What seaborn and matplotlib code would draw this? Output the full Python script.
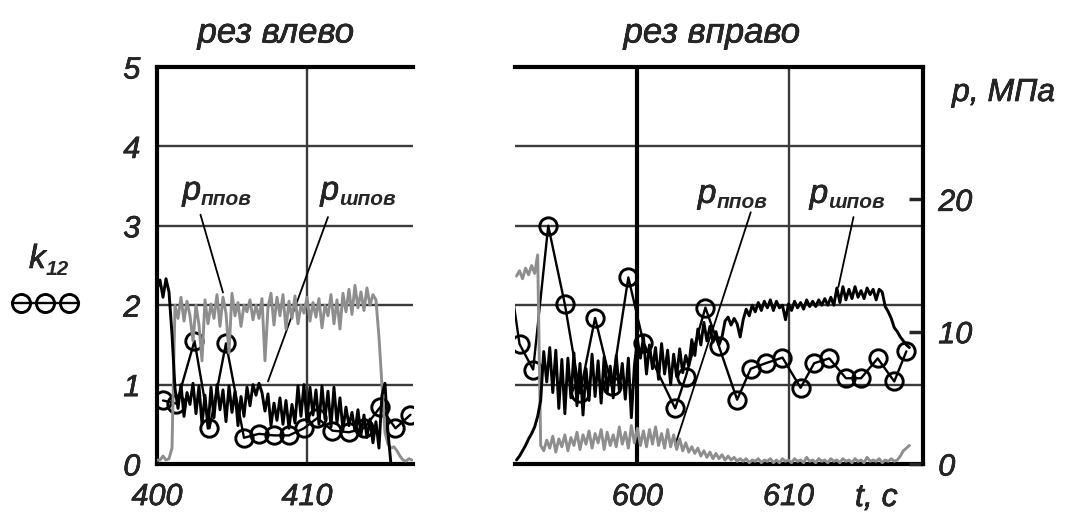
import numpy as np
import pandas as pd
import matplotlib
matplotlib.use("Agg")
import matplotlib.pyplot as plt
import matplotlib.patheffects as pe
import seaborn as sns
from matplotlib.lines import Line2D

# ---------------- data ----------------
# left record ("cut to the left"): sampled every 0.2 s from 400.0 s
t_left_start, t_step = 400.0, 0.2
p_shpov_left = [
    13.2, 13.9, 12.6, 14.0, 13.0, 9.8, 5.7, 4.2, 6.0, 3.6,
    5.4, 4.5, 6.1, 3.8, 5.9, 3.0, 5.2, 2.7, 5.8, 3.5,
    6.0, 4.1, 5.6, 3.2, 5.9, 3.9, 5.5, 2.9, 5.1, 3.6,
    5.8, 4.4, 6.0, 5.2, 6.1, 5.4, 4.0, 5.3, 2.9, 4.6,
    3.3, 5.0, 3.0, 4.8, 2.7, 4.5, 3.1, 5.9, 3.6, 6.0,
    3.2, 5.8, 3.7, 5.6, 3.0, 5.9, 3.4, 5.5, 2.8, 5.8,
    3.1, 5.0, 2.6, 4.3, 2.9, 3.9, 2.5, 4.1, 2.2, 3.7,
    2.0, 3.4, 1.6, 3.2, 1.2, 5.2, 6.1, 2.4, 0.0, 0.0,
    0.0, 0.0, 0.0, 0.0, 0.0, 0.0,
]
p_ppov_left = [
    0.3, 0.3, 0.6, 0.3, 0.4, 1.2, 12.0, 11.0, 12.6, 10.8,
    12.3, 11.2, 9.3, 12.0, 10.5, 7.8, 12.4, 10.6, 12.1, 11.0,
    12.8, 10.4, 12.6, 11.4, 8.4, 12.9, 11.2, 12.2, 10.4, 12.0,
    11.5, 12.4, 10.9, 12.0, 11.0, 12.5, 7.8, 11.8, 12.9, 10.5,
    12.6, 11.2, 12.8, 10.2, 12.3, 11.0, 12.7, 10.6, 12.0, 11.4,
    12.6, 10.8, 12.2, 11.1, 12.5, 10.3, 12.0, 11.2, 12.8, 10.6,
    12.4, 10.2, 12.9, 11.5, 13.2, 11.3, 13.5, 11.8, 13.0, 11.6,
    13.3, 12.0, 12.8, 12.4, 9.6, 6.0, 2.4, 1.5, 1.2, 1.3,
    1.0, 0.6, 0.3, 0.2, 0.4, 0.3,
]
k12_t_left = [400.4, 401.3, 402.5, 403.5, 404.6, 405.8, 406.8, 407.8, 408.8,
              409.8, 410.7, 411.7, 412.8, 413.8, 414.9, 415.9, 416.9]
k12_left = [0.80, 0.76, 1.55, 0.45, 1.52, 0.33, 0.38, 0.36, 0.36,
            0.45, 0.58, 0.42, 0.40, 0.45, 0.72, 0.45, 0.62]

# right record ("cut to the right"): sampled every 0.2 s from 592.0 s
t_right_start = 592.0
p_shpov_right = [
    0.3, 0.6, 1.0, 1.4, 1.9, 2.3, 2.8, 3.6, 4.8, 8.5,
    6.2, 8.8, 5.4, 8.6, 4.2, 7.9, 3.8, 8.0, 5.0, 8.4,
    4.4, 7.6, 3.7, 7.2, 4.8, 8.3, 5.1, 7.8, 4.6, 8.1,
    5.4, 7.4, 5.0, 8.2, 5.6, 7.6, 4.9, 8.0, 3.5, 7.4,
    9.4, 8.0, 9.6, 6.8, 9.0, 7.2, 8.8, 6.4, 9.1, 6.8,
    8.6, 6.0, 8.3, 6.6, 8.7, 6.9, 8.2, 7.4, 9.4, 8.2,
    10.2, 9.0, 10.7, 9.3, 10.4, 9.2, 10.0, 9.0, 9.6, 10.8,
    11.1, 10.5, 11.0, 10.6, 9.6, 10.9, 11.7, 11.2, 12.0, 11.5,
    12.2, 11.6, 12.3, 11.8, 12.4, 11.6, 12.3, 11.8, 12.0, 10.9,
    12.1, 11.6, 12.3, 11.8, 12.2, 11.7, 12.4, 11.9, 12.3, 11.9,
    12.4, 12.0, 12.5, 12.0, 12.6, 12.0, 13.3, 12.2, 13.4, 12.4,
    13.2, 12.5, 13.4, 12.6, 13.1, 12.5, 13.3, 12.8, 13.2, 12.4,
    13.2, 13.0, 11.9, 11.5, 11.0, 10.3, 10.0, 9.6, 9.3, 9.0,
    8.8,
]
p_ppov_right = [
    14.2, 14.6, 14.0, 14.8, 14.3, 15.0, 14.4, 15.8, 1.4, 1.0,
    1.8, 1.2, 2.1, 0.9, 1.9, 1.3, 2.2, 1.0, 2.0, 1.4,
    2.4, 1.1, 2.2, 1.5, 2.5, 1.2, 2.3, 1.6, 2.6, 1.1,
    2.4, 1.4, 2.2, 1.3, 2.8, 1.5, 2.4, 1.2, 2.9, 1.6,
    2.7, 1.4, 2.5, 1.3, 2.6, 1.5, 2.8, 1.4, 2.3, 1.2,
    2.6, 1.3, 2.2, 1.1, 1.9, 1.0, 1.6, 0.9, 1.3, 0.8,
    1.2, 0.6, 1.0, 0.5, 0.9, 0.4, 0.8, 0.4, 0.7, 0.3,
    0.6, 0.3, 0.5, 0.2, 0.4, 0.2, 0.4, 0.1, 0.3, 0.2,
    0.4, 0.1, 0.3, 0.2, 0.4, 0.1, 0.3, 0.1, 0.4, 0.2,
    0.3, 0.1, 0.4, 0.2, 0.3, 0.1, 0.5, 0.2, 0.3, 0.1,
    0.4, 0.2, 0.3, 0.1, 0.4, 0.2, 0.3, 0.1, 0.4, 0.2,
    0.3, 0.1, 0.4, 0.2, 0.3, 0.1, 0.5, 0.2, 0.3, 0.2,
    0.4, 0.1, 0.3, 0.2, 0.4, 0.2, 0.3, 0.6, 1.0, 1.2,
    1.4,
]
k12_t_right = [591.0, 592.2, 593.1, 594.1, 595.2, 596.2, 597.2, 598.3, 599.4,
               600.4, 602.5, 603.2, 604.5, 605.4, 606.6, 607.5, 608.5, 609.6,
               610.8, 611.7, 612.7, 613.8, 614.8, 615.9, 617.0, 617.8]
k12_right = [3.10, 1.51, 1.19, 3.00, 2.01, 0.89, 1.84, 0.98, 2.35,
             1.53, 0.70, 1.10, 1.97, 1.48, 0.81, 1.20, 1.27, 1.34,
             0.96, 1.27, 1.33, 1.08, 1.08, 1.33, 1.04, 1.42]

k_ticks = [0, 1, 2, 3, 4, 5]
p_ticks = [0, 10, 20]
x_ticks_left = [400, 410]
x_ticks_right = [600, 610]

df_left = pd.DataFrame({
    "t": t_left_start + t_step * np.arange(len(p_shpov_left)),
    "p_shpov": p_shpov_left,
    "p_ppov": p_ppov_left,
})
df_right = pd.DataFrame({
    "t": t_right_start + t_step * np.arange(len(p_shpov_right)),
    "p_shpov": p_shpov_right,
    "p_ppov": p_ppov_right,
})

# ---------------- style ----------------
sns.set_style("white")
plt.rcParams["font.family"] = ["Liberation Sans", "DejaVu Sans"]
plt.rcParams["font.style"] = "italic"

GRAY = "#8e8e8e"
GRID = "#3a3a3a"
FS = 22
HEAVY = [pe.withStroke(linewidth=0.45, foreground="black")]

W, H = 1074, 516
fig = plt.figure(figsize=(W / 100, H / 100), dpi=100)
ax_l = fig.add_axes([157 / W, 1 - 464 / H, 256 / W, 397 / H])
ax_r = fig.add_axes([515 / W, 1 - 464 / H, 408 / W, 397 / H])
tw_l = ax_l.twinx()
tw_r = ax_r.twinx()

line_kw = dict(estimator=None, sort=False, linewidth=2.1)
k12_kw = dict(estimator=None, sort=False, color="black", linewidth=1.7,
              marker="o", markersize=12.5, markerfacecolor="none",
              markeredgecolor="black", markeredgewidth=2.1)

for ax, tw, df, kt, kv in [(ax_l, tw_l, df_left, k12_t_left, k12_left),
                           (ax_r, tw_r, df_right, k12_t_right, k12_right)]:
    sns.lineplot(data=df, x="t", y="p_ppov", ax=tw, color=GRAY, **line_kw)
    sns.lineplot(data=df, x="t", y="p_shpov", ax=tw, color="black", **line_kw)
    sns.lineplot(x=kt, y=kv, ax=ax, **k12_kw)
    ax.set_ylim(0, 5)
    tw.set_ylim(0, 30)
    ax.set_xlabel("")
    ax.set_ylabel("")
    tw.set_ylabel("")
    ax.set_yticks(k_ticks)
    ax.grid(True, axis="y", color=GRID, linewidth=1.7)
    ax.set_axisbelow(True)
    ax.tick_params(axis="both", length=0, labelsize=FS)
    ax.tick_params(axis="x", pad=13)

# left panel
ax_l.set_xlim(400, 417.07)
ax_l.set_xticks(x_ticks_left)
ax_l.set_yticklabels([str(v) for v in k_ticks])
ax_l.tick_params(axis="y", pad=12)
ax_l.axvline(410, color=GRID, linewidth=1.7, zorder=0.5)
for side in ["left", "top", "bottom"]:
    ax_l.spines[side].set_linewidth(3)
    ax_l.spines[side].set_color("black")
ax_l.spines["right"].set_visible(False)
tw_l.axis("off")

# right panel
ax_r.set_xlim(591.9, 618.9)
ax_r.set_xticks(x_ticks_right)
ax_r.tick_params(axis="y", labelleft=False)
ax_r.axvline(600, color="black", linewidth=3, zorder=0.6)
ax_r.axvline(610, color=GRID, linewidth=1.7, zorder=0.5)
for side in ["top", "bottom"]:
    ax_r.spines[side].set_linewidth(3)
    ax_r.spines[side].set_color("black")
ax_r.spines["left"].set_visible(False)
ax_r.spines["right"].set_visible(False)
for side in ["left", "top", "bottom"]:
    tw_r.spines[side].set_visible(False)
tw_r.spines["right"].set_linewidth(3)
tw_r.spines["right"].set_color("black")
tw_r.set_yticks(p_ticks)
tw_r.set_yticklabels([str(v) for v in p_ticks])
tw_r.tick_params(axis="y", direction="in", length=10, width=2.5,
                 pad=11, labelsize=FS)

for lab in (ax_l.get_xticklabels() + ax_l.get_yticklabels()
            + ax_r.get_xticklabels() + tw_r.get_yticklabels()):
    lab.set_path_effects(HEAVY)


def p_label(ax, x, y, sub):
    base = ax.text(x, y, "p", fontsize=24, ha="left", va="baseline",
                   path_effects=HEAVY)
    ax.annotate(sub, xy=(1.0, 0.0), xycoords=base, xytext=(0, 1),
                textcoords="offset points", fontsize=15, fontweight="bold",
                ha="left", va="baseline")


def leader(ax, start, end):
    ax.annotate("", xy=end, xytext=start,
                arrowprops=dict(arrowstyle="-", color="black", lw=1.3,
                                shrinkA=0, shrinkB=0))


p_label(ax_l, 401.7, 3.33, "ппов")
p_label(ax_l, 410.9, 3.33, "шпов")
leader(ax_l, (402.9, 3.14), (404.4, 2.16))
leader(ax_l, (411.4, 3.11), (407.4, 1.04))

p_label(ax_r, 604.0, 3.29, "ппов")
p_label(ax_r, 611.4, 3.29, "шпов")
leader(ax_r, (607.5, 3.17), (602.5, 0.24))
leader(ax_r, (614.3, 3.11), (613.3, 2.23))

# panel captions and axis names
fig.text(276 / W, 1 - 33 / H, "рез влево", ha="center", va="center",
         fontsize=25, path_effects=HEAVY)
fig.text(712 / W, 1 - 33 / H, "рез вправо", ha="center", va="center",
         fontsize=25, path_effects=HEAVY)
fig.text(952 / W, 1 - 93 / H, "p, МПа", ha="left", va="center", fontsize=23,
         path_effects=HEAVY)
fig.text(855 / W, 1 - 498 / H, "t, с", ha="left", va="center", fontsize=23,
         path_effects=HEAVY)

# k12 key on the left
fig.text(29 / W, 1 - 268 / H, "k", fontsize=24, ha="left", va="baseline",
         path_effects=HEAVY)
fig.text(46 / W, 1 - 275 / H, "12", fontsize=15, fontweight="bold",
         ha="left", va="baseline")
fig.add_artist(Line2D([12 / W, 79 / W], [1 - 303 / H, 1 - 303 / H],
                      transform=fig.transFigure, color="black", linewidth=1.7))
fig.add_artist(Line2D([21 / W, 45 / W, 69 / W], [1 - 303 / H] * 3,
                      transform=fig.transFigure, linestyle="none",
                      marker="o", markersize=13, markerfacecolor="none",
                      markeredgecolor="black", markeredgewidth=2.1))

fig.savefig("out.png", dpi=100)
